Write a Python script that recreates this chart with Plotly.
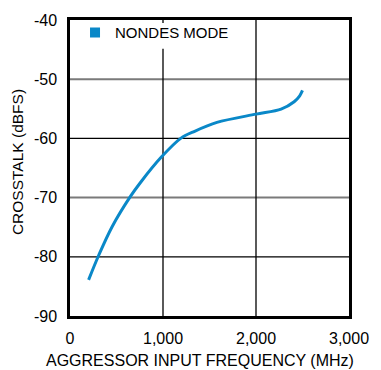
import plotly.graph_objects as go

# Crosstalk vs aggressor input frequency (NONDES mode)
freq_mhz = [200, 310, 450, 650, 760, 980, 1190, 1340, 1580, 2000, 2270, 2410, 2470, 2500]
crosstalk_dbfs = [-83.9, -79.7, -75.0, -69.8, -67.4, -63.2, -60.0, -58.8, -57.3, -55.9, -55.05, -53.8, -52.8, -51.9]

x_ticks = [0, 1000, 2000, 3000]
x_tick_labels = ["0", "1,000", "2,000", "3,000"]
y_ticks = [-90, -80, -70, -60, -50, -40]
y_tick_labels = ["-90", "-80", "-70", "-60", "-50", "-40"]

BLUE = "#0A88C8"
FONT = "Liberation Sans, Arial, sans-serif"

fig = go.Figure()

fig.add_trace(go.Scatter(
    x=freq_mhz, y=crosstalk_dbfs, mode="lines",
    line=dict(color=BLUE, width=3, shape="spline", smoothing=0.9),
    showlegend=False,
))
# legend entry drawn as a square swatch
fig.add_trace(go.Scatter(
    x=[None], y=[None], mode="markers", name="NONDES MODE",
    marker=dict(symbol="square", size=10, color=BLUE),
))

# grid: inner horizontal lines alternate gray / black, vertical lines black
shapes = []
for v in y_ticks[1:-1]:
    gray = v in (-70, -50)
    shapes.append(dict(type="line", xref="paper", x0=0, x1=1, yref="y", y0=v, y1=v,
                       line=dict(color="#7a7a7a" if gray else "#000000", width=2 if gray else 1.3),
                       layer="below"))
for v in x_ticks[1:-1]:
    shapes.append(dict(type="line", yref="paper", y0=0, y1=1, xref="x", x0=v, x1=v,
                       line=dict(color="#000000", width=1.3), layer="below"))
# white panel behind the legend, masking the grid but not the border
shapes.append(dict(type="rect", xref="paper", yref="paper", x0=0.05, x1=0.52,
                   y0=0.903, y1=0.99, fillcolor="white", line=dict(width=0),
                   layer="below"))

fig.update_layout(
    width=381, height=370,
    margin=dict(l=70, r=21, t=17, b=54),
    paper_bgcolor="white", plot_bgcolor="white",
    font=dict(family=FONT, size=16, color="#000000"),
    shapes=shapes,
    showlegend=True,
    legend=dict(x=0.018, y=0.957, xanchor="left", yanchor="middle",
                bgcolor="rgba(0,0,0,0)", font=dict(size=15), itemwidth=30,
                borderwidth=0),
    annotations=[
        dict(text="AGGRESSOR INPUT FREQUENCY (MHz)", xref="paper", yref="paper",
             x=0.467, y=-0.149, xanchor="center", yanchor="middle", showarrow=False,
             font=dict(size=16)),
        dict(text="CROSSTALK (dBFS)", xref="paper", yref="paper",
             x=-0.19, y=0.52, xanchor="center", yanchor="middle", showarrow=False,
             textangle=-90, font=dict(size=15.5)),
    ],
)

fig.update_xaxes(
    range=[0, 3000], tickvals=x_ticks, ticktext=x_tick_labels,
    showgrid=False, zeroline=False, ticks="", ticklabelstandoff=6,
    showline=True, linecolor="#000000", linewidth=2.5, mirror=True,
)
fig.update_yaxes(
    range=[-90, -40], tickvals=y_ticks, ticktext=y_tick_labels,
    showgrid=False, zeroline=False, ticks="", ticklabelstandoff=7,
    showline=True, linecolor="#000000", linewidth=2.5, mirror=True,
)

fig.write_html("out.html")
